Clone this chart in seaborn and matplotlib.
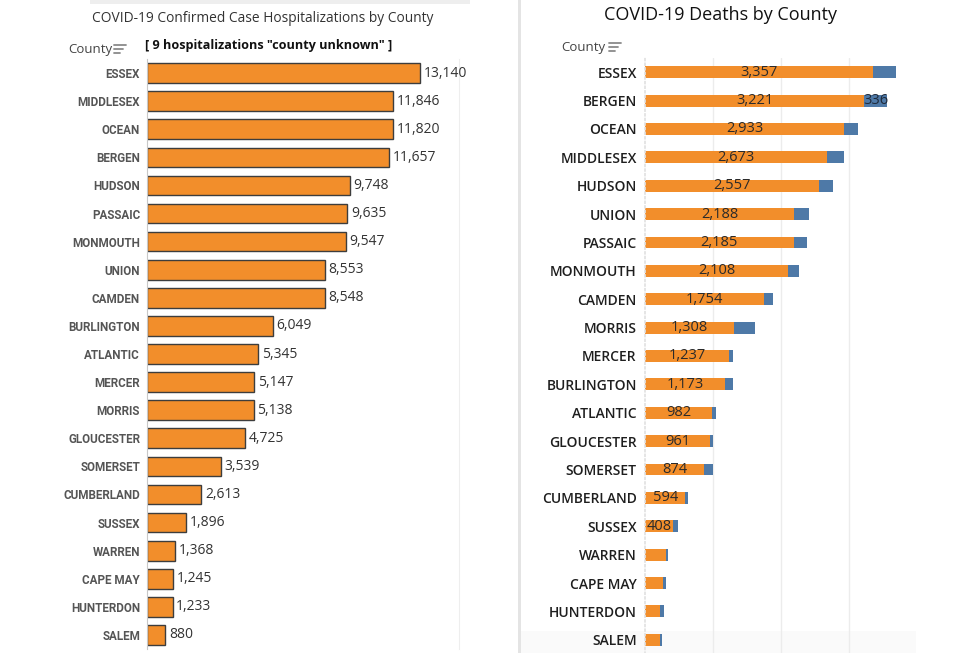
import matplotlib
matplotlib.use("Agg")
import matplotlib.pyplot as plt
import pandas as pd
import seaborn as sns
from matplotlib.lines import Line2D
from matplotlib.patches import Rectangle

OUTPUT_PATH = "out.png"

COLOR_ORANGE = "#f28e2b"
COLOR_BLUE = "#4e79a7"
COLOR_EDGE = "#3d3d3d"
COLOR_TEXT = "#333333"
COLOR_GRID = "#ececec"

# left panel: confirmed case hospitalizations
HOSP_COUNTIES = [
    "ESSEX", "MIDDLESEX", "OCEAN", "BERGEN", "HUDSON", "PASSAIC", "MONMOUTH",
    "UNION", "CAMDEN", "BURLINGTON", "ATLANTIC", "MERCER", "MORRIS",
    "GLOUCESTER", "SOMERSET", "CUMBERLAND", "SUSSEX", "WARREN", "CAPE MAY",
    "HUNTERDON", "SALEM",
]
HOSP_VALUES = [
    13140, 11846, 11820, 11657, 9748, 9635, 9547, 8553, 8548, 6049, 5345,
    5147, 5138, 4725, 3539, 2613, 1896, 1368, 1245, 1233, 880,
]

# right panel: confirmed deaths + probable deaths
DEATH_COUNTIES = [
    "ESSEX", "BERGEN", "OCEAN", "MIDDLESEX", "HUDSON", "UNION", "PASSAIC",
    "MONMOUTH", "CAMDEN", "MORRIS", "MERCER", "BURLINGTON", "ATLANTIC",
    "GLOUCESTER", "SOMERSET", "CUMBERLAND", "SUSSEX", "WARREN", "CAPE MAY",
    "HUNTERDON", "SALEM",
]
DEATHS_CONFIRMED = [
    3357, 3221, 2933, 2673, 2557, 2188, 2185, 2108, 1754, 1308, 1237, 1173,
    982, 961, 874, 594, 408, 315, 271, 221, 216,
]
DEATHS_PROBABLE = [
    330, 336, 196, 255, 206, 231, 191, 162, 130, 305, 63, 118, 63, 34, 132,
    45, 78, 30, 44, 60, 30,
]
SHOW_LABEL_MIN = 400


def draw_sort_icon(fig, x, y):
    # little "sorted descending" glyph next to the County header
    for i, length in enumerate([12, 9, 6]):
        fig.add_artist(Line2D(
            [x / 980, (x + length) / 980],
            [1 - (y + i * 4) / 653] * 2,
            color="#8a8a8a", linewidth=1.3, transform=fig.transFigure,
        ))


def plot_hospitalizations(fig):
    ax = fig.add_axes([147 / 980, 1 - 649 / 653, 312 / 980, 590 / 653])
    data = pd.DataFrame({"county": HOSP_COUNTIES, "value": HOSP_VALUES})

    sns.barplot(
        data=data, x="value", y="county", orient="h", color=COLOR_ORANGE,
        saturation=1, width=0.7, edgecolor=COLOR_EDGE, linewidth=1.0, ax=ax,
    )
    ax.set_xlim(0, 15000)
    ax.set_ylim(len(HOSP_COUNTIES) - 0.5, -0.5)

    for i, v in enumerate(HOSP_VALUES):
        ax.text(v + 170, i, f"{v:,}", ha="left", va="center",
                fontsize=10, color=COLOR_TEXT, family=["Open Sans", "DejaVu Sans"])

    ax.set_xlabel("")
    ax.set_ylabel("")
    ax.set_xticks([])
    ax.tick_params(axis="y", length=0, pad=5)
    for label in ax.get_yticklabels():
        label.set_family(["Roboto", "DejaVu Sans"])
        label.set_fontweight("bold")
        label.set_fontsize(8.4)
        label.set_color("#555555")

    for spine in ["top", "bottom"]:
        ax.spines[spine].set_visible(False)
    ax.spines["left"].set_color("#c8c8c8")
    ax.spines["left"].set_linewidth(0.8)
    ax.spines["right"].set_color("#eeeeee")
    ax.spines["right"].set_linewidth(0.8)

    fig.text(263 / 980, 1 - 19 / 653,
             "COVID-19 Confirmed Case Hospitalizations by County",
             ha="center", va="center", fontsize=9.9, color="#333333",
             family=["Open Sans", "DejaVu Sans"])
    fig.text(145 / 980, 1 - 45 / 653,
             '[ 9 hospitalizations "county unknown" ]',
             ha="left", va="center", fontsize=9.1, fontweight="bold",
             color="#111111", family=["Open Sans", "DejaVu Sans"])
    fig.text(68 / 980, 1 - 50 / 653, "County", ha="left", va="center",
             fontsize=9.5, color="#444444", family=["Open Sans", "DejaVu Sans"])
    draw_sort_icon(fig, 114, 45)


def plot_deaths(fig):
    ax = fig.add_axes([645 / 980, 1 - 654 / 653, 272 / 980, 596 / 653])
    ax.patch.set_alpha(0)
    data = pd.DataFrame({
        "county": DEATH_COUNTIES,
        "confirmed": DEATHS_CONFIRMED,
        "probable": DEATHS_PROBABLE,
    })
    data["total"] = data["confirmed"] + data["probable"]

    sns.barplot(data=data, x="total", y="county", orient="h", color=COLOR_BLUE,
                saturation=1, width=0.42, linewidth=0, ax=ax)
    sns.barplot(data=data, x="confirmed", y="county", orient="h",
                color=COLOR_ORANGE, saturation=1, width=0.42, linewidth=0, ax=ax)

    ax.set_xlim(0, 4000)
    ax.set_ylim(len(DEATH_COUNTIES) - 0.5, -0.5)
    ax.set_xticks([1000, 2000, 3000])
    ax.xaxis.grid(True, color=COLOR_GRID, linewidth=1)
    ax.set_axisbelow(True)

    for i, row in data.iterrows():
        if row["confirmed"] >= SHOW_LABEL_MIN:
            ax.text(row["confirmed"] / 2, i, f"{row['confirmed']:,}",
                    ha="center", va="center", fontsize=10.5, color="#2a2a2a",
                    family=["Open Sans", "DejaVu Sans"])
        if row["county"] == "BERGEN":
            ax.text(row["confirmed"] + row["probable"] / 2, i,
                    f"{row['probable']:,}", ha="center", va="center",
                    fontsize=10.5, color="#1f2a3a",
                    family=["Open Sans", "DejaVu Sans"])

    ax.set_xlabel("")
    ax.set_ylabel("")
    ax.tick_params(axis="x", length=0, labelbottom=False)
    ax.tick_params(axis="y", length=0, pad=6)
    for label in ax.get_yticklabels():
        label.set_family(["Open Sans", "DejaVu Sans"])
        label.set_fontweight("semibold")
        label.set_fontsize(10)
        label.set_color("#1e1e1e")

    for spine in ["top", "bottom", "right"]:
        ax.spines[spine].set_visible(False)
    ax.spines["left"].set_color("#e2e2e2")
    ax.spines["left"].set_linestyle(":")

    fig.text(720 / 980, 1 - 15 / 653, "COVID-19 Deaths by County",
             ha="center", va="center", fontsize=13, color="#111111",
             family=["Open Sans", "DejaVu Sans"])
    fig.text(561 / 980, 1 - 48 / 653, "County", ha="left", va="center",
             fontsize=9.5, color="#444444", family=["Open Sans", "DejaVu Sans"])
    draw_sort_icon(fig, 609, 43)


def main():
    sns.set_theme(style="white")
    plt.rcParams["font.family"] = ["Open Sans", "DejaVu Sans"]

    fig = plt.figure(figsize=(9.8, 6.53), dpi=100, facecolor="white")

    # panel frame bits: faint top shadow on left, divider, bottom-right fade
    fig.add_artist(Rectangle((90 / 980, 1 - 4 / 653), 380 / 980, 4 / 653,
                             transform=fig.transFigure, color="#eeeeee", lw=0))
    fig.add_artist(Rectangle((518 / 980, 0), 3 / 980, 1,
                             transform=fig.transFigure, color="#e4e4e4", lw=0))
    fig.add_artist(Rectangle((521 / 980, 0), 395 / 980, 22 / 653,
                             transform=fig.transFigure, color="#fafafa", lw=0,
                             zorder=-1))

    plot_hospitalizations(fig)
    plot_deaths(fig)

    fig.savefig(OUTPUT_PATH, dpi=100, facecolor="white")
    plt.close(fig)


if __name__ == "__main__":
    main()
